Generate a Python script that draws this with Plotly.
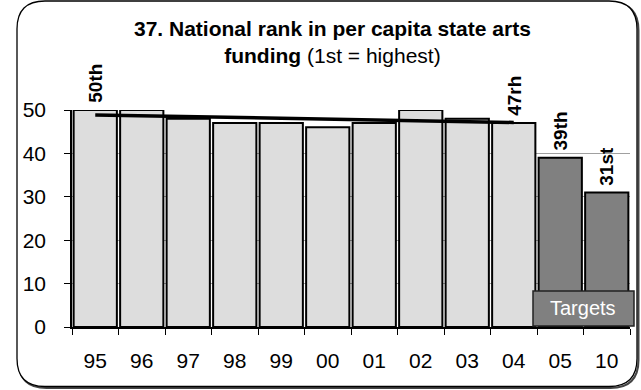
import numpy as np
import plotly.graph_objects as go

# ---- data ----
actual_years = ["95", "96", "97", "98", "99", "00", "01", "02", "03", "04"]
actual_rank = [50, 50, 48, 47, 47, 46, 47, 50, 48, 47]
actual_labels = ["50th", "", "", "", "", "", "", "", "", "47rh"]

target_years = ["05", "10"]
target_rank = [39, 31]
target_labels = ["39th", "31st"]

all_years = actual_years + target_years

title_line1 = "37. National rank in per capita state arts"
title_line2_bold = "funding"
title_line2_rest = " (1st = highest)"
targets_text = "Targets"

# linear trendline over actual years (like a spreadsheet trendline)
idx = np.arange(len(actual_rank))
slope, intercept = np.polyfit(idx, actual_rank, 1)
trend = (slope * idx + intercept).tolist()

# ---- layout geometry (pixels) ----
W, H = 641, 390
L, R, T, B = 72, 11, 110, 63
PW = W - L - R
PH = H - T - B


def px(x):
    return (x - L) / PW


def py(y):
    return (H - B - y) / PH


FONT = "Arial, Liberation Sans, sans-serif"

fig = go.Figure()

fig.add_trace(go.Bar(
    x=actual_years, y=actual_rank,
    marker=dict(color="#DDDDDD", line=dict(color="black", width=2)),
    showlegend=False, hoverinfo="x+y",
))
fig.add_trace(go.Bar(
    x=target_years, y=target_rank,
    marker=dict(color="#808080", line=dict(color="black", width=2)),
    showlegend=False, hoverinfo="x+y",
))
fig.add_trace(go.Scatter(
    x=actual_years, y=trend, mode="lines",
    line=dict(color="black", width=3.5), showlegend=False,
))


def rounded(x0, y0, x1, y1, r):
    return (
        f"M {px(x0 + r)} {py(y0)} L {px(x1 - r)} {py(y0)} "
        f"Q {px(x1)} {py(y0)} {px(x1)} {py(y0 + r)} "
        f"L {px(x1)} {py(y1 - r)} Q {px(x1)} {py(y1)} {px(x1 - r)} {py(y1)} "
        f"L {px(x0 + r)} {py(y1)} Q {px(x0)} {py(y1)} {px(x0)} {py(y1 - r)} "
        f"L {px(x0)} {py(y0 + r)} Q {px(x0)} {py(y0)} {px(x0 + r)} {py(y0)} Z"
    )


shapes = [
    dict(type="path", path=rounded(18.5, 2.5, 638.5, 388, 28), xref="paper", yref="paper",
         line=dict(color="#444444", width=2), layer="below"),
    dict(type="path", path=rounded(17, 1, 637, 386.5, 28), xref="paper", yref="paper",
         fillcolor="white", line=dict(color="black", width=1.3), layer="below"),
    dict(type="rect", xref="paper", yref="paper",
         x0=px(533), x1=px(634), y0=py(326), y1=py(291),
         fillcolor="#808080", line=dict(color="#222222", width=1.5), layer="above"),
]

annotations = [
    dict(text=f"<b>{title_line1}</b><br><b>{title_line2_bold}</b>{title_line2_rest}",
         xref="paper", yref="paper", x=px(332), y=py(15), xanchor="center", yanchor="top",
         showarrow=False, font=dict(family=FONT, size=21, color="black")),
    dict(text=targets_text, xref="paper", yref="paper", x=px(583), y=py(308),
         xanchor="center", yanchor="middle", showarrow=False,
         font=dict(family=FONT, size=20, color="white")),
]

for xs, ys, labs in ((actual_years, actual_rank, actual_labels),
                     (target_years, target_rank, target_labels)):
    for xv, yv, lab in zip(xs, ys, labs):
        if lab:
            annotations.append(dict(
                text=f"<b>{lab}</b>", x=all_years.index(xv), y=yv, xref="x", yref="y",
                xanchor="center", yanchor="bottom", yshift=5, textangle=-90,
                showarrow=False, font=dict(family=FONT, size=19, color="black"),
            ))

fig.update_layout(
    width=W, height=H,
    margin=dict(l=L, r=R, t=T, b=B, autoexpand=False),
    paper_bgcolor="white", plot_bgcolor="rgba(0,0,0,0)",
    barmode="overlay", bargap=0.07,
    shapes=shapes, annotations=annotations,
    font=dict(family=FONT, size=20, color="black"),
)
fig.update_xaxes(
    type="category", categoryorder="array", categoryarray=all_years,
    range=[-0.5, len(all_years) - 0.5],
    showline=True, linecolor="black", linewidth=1.5,
    ticks="outside", tickson="boundaries", ticklen=6, tickcolor="black",
    ticklabelstandoff=14, showgrid=False,
    tickfont=dict(family=FONT, size=21, color="black"),
)
fig.update_yaxes(
    range=[0, 50], dtick=10, showline=True, linecolor="black", linewidth=1.5,
    ticks="outside", ticklen=6, tickcolor="black", ticklabelstandoff=14,
    showgrid=True, gridcolor="#A0A0A0", gridwidth=1, zeroline=False,
    tickfont=dict(family=FONT, size=21, color="black"),
)

fig.write_html("out.html", config={"displayModeBar": False})

# remove default page margin so the figure sits at the window origin
with open("out.html", "r", encoding="utf-8") as f:
    html = f.read()
html = html.replace("<body>", '<body style="margin:0;padding:0;overflow:hidden">', 1)
with open("out.html", "w", encoding="utf-8") as f:
    f.write(html)
